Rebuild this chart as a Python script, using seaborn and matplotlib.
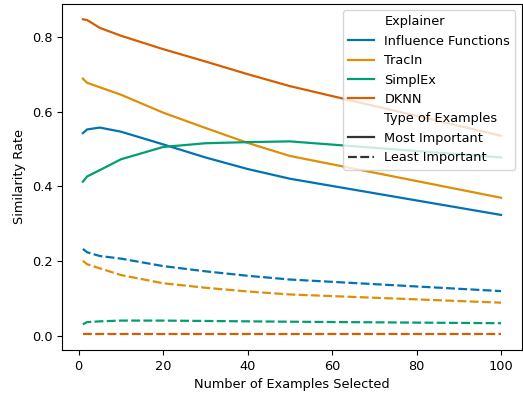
import pandas as pd
import matplotlib
matplotlib.use("Agg")
import matplotlib.pyplot as plt
import seaborn as sns

# number of examples selected
n_examples = [1, 2, 5, 10, 20, 30, 40, 50, 100]

explainers = ["Influence Functions", "TracIn", "SimplEx", "DKNN"]

# similarity rate, most important examples
most_if = [0.542, 0.552, 0.557, 0.546, 0.512, 0.477, 0.446, 0.420, 0.323]
most_tracin = [0.688, 0.677, 0.665, 0.645, 0.597, 0.556, 0.516, 0.481, 0.369]
most_simplex = [0.412, 0.426, 0.443, 0.472, 0.505, 0.515, 0.518, 0.520, 0.477]
most_dknn = [0.847, 0.845, 0.824, 0.803, 0.767, 0.734, 0.700, 0.668, 0.535]

# similarity rate, least important examples
least_if = [0.232, 0.223, 0.213, 0.206, 0.186, 0.172, 0.160, 0.150, 0.119]
least_tracin = [0.200, 0.191, 0.180, 0.162, 0.140, 0.128, 0.118, 0.110, 0.088]
least_simplex = [0.030, 0.036, 0.038, 0.040, 0.040, 0.039, 0.038, 0.037, 0.033]
least_dknn = [0.003, 0.003, 0.003, 0.003, 0.003, 0.003, 0.003, 0.003, 0.003]

most = [most_if, most_tracin, most_simplex, most_dknn]
least = [least_if, least_tracin, least_simplex, least_dknn]

rows = []
for name, vals in zip(explainers, most):
    for x, y in zip(n_examples, vals):
        rows.append((x, y, name, "Most Important"))
for name, vals in zip(explainers, least):
    for x, y in zip(n_examples, vals):
        rows.append((x, y, name, "Least Important"))
df = pd.DataFrame(rows, columns=["Number of Examples Selected", "Similarity Rate",
                                 "Explainer", "Type of Examples"])

plt.rcParams["font.size"] = 9.3

fig, ax = plt.subplots(figsize=(5.23, 3.93), dpi=100)
sns.lineplot(data=df, x="Number of Examples Selected", y="Similarity Rate",
             hue="Explainer", style="Type of Examples",
             palette="colorblind", linewidth=1.6, ax=ax)
ax.legend(loc="upper right")
fig.subplots_adjust(left=0.1185, right=0.998, top=0.991, bottom=0.109)
fig.savefig("out.png", dpi=100)
